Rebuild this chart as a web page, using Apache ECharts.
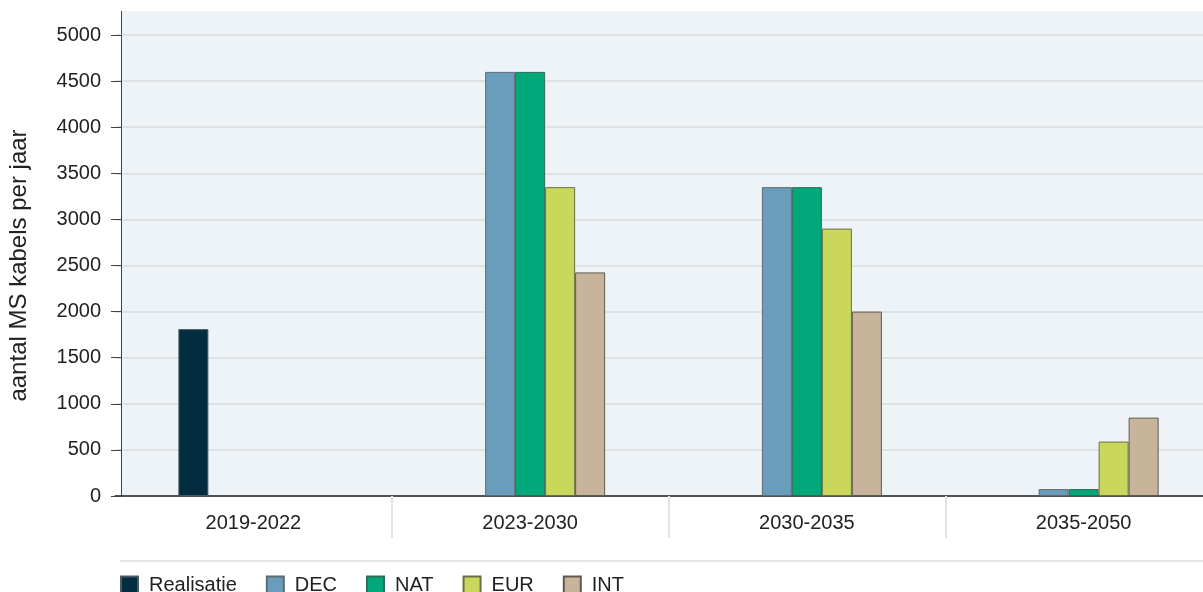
<!DOCTYPE html>
<html>
<head>
<meta charset="utf-8">
<script src="https://cdn.jsdelivr.net/npm/echarts@6/dist/echarts.min.js"></script>
<style>
  html, body { margin: 0; padding: 0; background: #fff; }
  #chart-container { width: 1203px; height: 592px; }
</style>
</head>
<body>
<div id="chart-container"></div>
<script>
var periods = ["2019-2022", "2023-2030", "2030-2035", "2035-2050"];
var realisatie = [1810, null, null, null];
var dec = [null, 4600, 3350, 75];
var nat = [null, 4600, 3350, 75];
var eur = [null, 3350, 2900, 590];
var int = [null, 2425, 2000, 850];
var yTicks = { min: 0, max: 5000, interval: 500 };

var dom = document.getElementById("chart-container");
var myChart = echarts.init(dom, null, { renderer: "canvas" });

var font = "'Liberation Sans', Arial, sans-serif";

function bar(name, data, color, border) {
  return {
    name: name,
    type: "bar",
    data: data,
    barWidth: 30,
    barGap: "0%",
    itemStyle: { color: color, borderColor: border, borderWidth: 1 },
  };
}

var option = {
  animation: false,
  textStyle: { fontFamily: font },
  grid: {
    left: 115,
    top: 35,
    width: 1107,
    height: 461,
    outerBoundsMode: "none",
    containLabel: false,
  },
  legend: {
    left: 120,
    top: 575,
    padding: 0,
    icon: "rect",
    itemWidth: 17,
    itemHeight: 17,
    itemGap: 29,
    textStyle: { fontSize: 20, color: "#222", fontFamily: font, padding: [0, 0, 0, 6] },
    data: ["Realisatie", "DEC", "NAT", "EUR", "INT"],
  },
  graphic: [
    {
      type: "rect",
      shape: { x: 121, y: 11, width: 1082, height: 485 },
      style: { fill: "#eef3f8" },
      z: -10,
    },
    {
      type: "line",
      shape: { x1: 121.5, y1: 11, x2: 121.5, y2: 36 },
      style: { stroke: "#444", lineWidth: 1 },
    },
    {
      type: "line",
      shape: { x1: 120, y1: 561, x2: 1203, y2: 561 },
      style: { stroke: "#e6e6e6", lineWidth: 2 },
    },
  ],
  xAxis: {
    type: "category",
    data: periods,
    axisLine: { lineStyle: { color: "#222", width: 1.5 } },
    axisTick: {
      show: true,
      length: 42,
      interval: function (i) { return i > 0; },
      lineStyle: { color: "#e3e3e3", width: 2 },
    },
    axisLabel: { fontSize: 20, color: "#222", margin: 17, fontFamily: font },
  },
  yAxis: {
    type: "value",
    min: yTicks.min,
    max: yTicks.max,
    interval: yTicks.interval,
    offset: -6,
    name: "aantal MS kabels per jaar",
    nameLocation: "middle",
    nameRotate: 90,
    nameGap: 90,
    nameTextStyle: { fontSize: 24, color: "#222", fontFamily: font },
    axisLine: { show: true, lineStyle: { color: "#444", width: 1 } },
    axisTick: { show: true, length: 10, lineStyle: { color: "#444" } },
    axisLabel: {
      fontSize: 20,
      color: "#222",
      margin: 20,
      fontFamily: font,
      formatter: function (v) { return String(v); },
    },
    splitLine: { lineStyle: { color: "#d9dcdf", width: 1.5 } },
  },
  series: [
    bar("Realisatie", realisatie, "#022c40", "#4a5a62"),
    bar("DEC", dec, "#6a9dbb", "#5d6b73"),
    bar("NAT", nat, "#00a87a", "#2f6b55"),
    bar("EUR", eur, "#c9d85b", "#6b6e45"),
    bar("INT", int, "#c8b49b", "#5e5a52"),
  ],
};

myChart.setOption(option);
window.addEventListener("resize", myChart.resize);
</script>
</body>
</html>
